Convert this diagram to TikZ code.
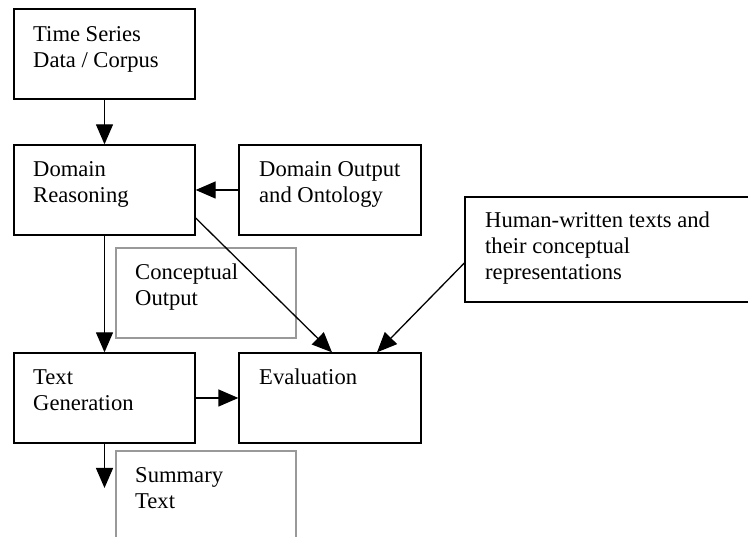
\documentclass[tikz,border=0pt]{standalone}
\usepackage{fontspec}
\setmainfont{Liberation Serif}
\usetikzlibrary{arrows.meta,calc}
\begin{document}
\begin{tikzpicture}[x=1pt,y=1pt,
  box/.style={draw=black,line width=1.3pt,inner sep=0pt,minimum width=181pt,minimum height=90pt},
  greybox/.style={draw=black!40,line width=1.3pt,inner sep=0pt,minimum width=180pt,minimum height=90pt},
  lbl/.style={anchor=base west,inner sep=0pt,align=left,font=\fontsize{22.6}{26}\selectfont},
  conn/.style={line width=1.3pt,-{Triangle[length=20pt,width=17pt]}}]
\useasboundingbox (0,0) rectangle (748,537);
% boxes
\node[box] (ts) at (104.5,483) {};
\node[box] (dr) at (104.5,347) {};
\node[box,minimum width=182pt] (do) at (330,347) {};
\node[box,minimum width=295pt,minimum height=105pt] (hu) at (612.5,287.5) {};
\node[greybox] (co) at (206,244) {};
\node[box] (tg) at (104.5,139) {};
\node[box,minimum width=182pt] (ev) at (330,139) {};
\node[greybox,minimum height=109pt] (st) at (206,31.5) {};
% texts (anchor = baseline of last line)
\node[lbl] (tsT) at (33,469) {Time Series\\Data / Corpus};
\node[lbl] (drT) at (33,334) {Domain\\Reasoning};
\node[lbl] (doT) at (259,334) {Domain Output\\and Ontology};
\node[lbl] (huT) at (485,257) {Human-written texts and\\their conceptual\\representations};
\node[lbl] (coT) at (135,231) {Conceptual\\Output};
\node[lbl] (tgT) at (33,126) {Text\\Generation};
\node[lbl] (evT) at (259,152) {Evaluation};
\node[lbl] (stT) at (135,28) {Summary\\Text};
% connectors
\coordinate (stEnd) at (104.5,49);
\draw[conn] (ts.south) -- (dr.north);
\draw[conn] (do.west) -- (dr.east);
\draw[conn] ($(dr.east)+(0,-28)$) -- ($(ev.north)+(2,0)$);
\draw[conn] ($(hu.west)+(0,-13.5)$) -- ($(ev.north)+(47,0)$);
\draw[conn] (dr.south) -- (tg.north);
\draw[conn] (tg.east) -- (ev.west);
\draw[conn] (tg.south) -- (stEnd);
\end{tikzpicture}
\end{document}
